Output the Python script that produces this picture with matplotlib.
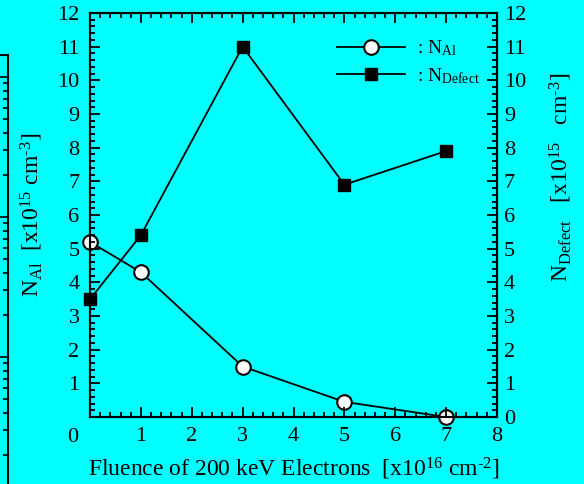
import numpy as np
import matplotlib
matplotlib.use("Agg")
import matplotlib.pyplot as plt
from matplotlib.ticker import MultipleLocator, LogLocator, NullFormatter

# data
fluence = [0, 1, 3, 5, 7]
n_al = [5.2, 4.3, 1.5, 0.45, 0.0]
n_defect = [3.5, 5.4, 11.0, 6.9, 7.9]

x_ticks = list(range(0, 9))
y_ticks = list(range(0, 13))

plt.rcParams['font.family'] = ['Liberation Serif', 'DejaVu Serif']
plt.rcParams['mathtext.fontset'] = 'custom'
plt.rcParams['mathtext.rm'] = 'Liberation Serif'
plt.rcParams['mathtext.it'] = 'Liberation Serif:italic'
plt.rcParams['mathtext.default'] = 'regular'

bg = '#00FFFF'
fig = plt.figure(figsize=(5.84, 4.84), dpi=100, facecolor=bg)

# clipped neighbour panel on the far left (only its right edge shows)
W, H = 584.0, 484.0
ghost = fig.add_axes([-0.4, 1 - 500 / H, 0.4 + 8 / W, (500 - 55) / H])
ghost.set_facecolor(bg)
ghost.set_yscale('log')
ghost.set_ylim(10 ** (-(500 - 357) / 140), 10 ** (1 + 162 / 140))
ghost.spines['left'].set_visible(False)
ghost.spines['bottom'].set_visible(False)
for s in ('right', 'top'):
    ghost.spines[s].set_linewidth(1.5)
ghost.set_xticks([])
ghost.yaxis.set_major_locator(LogLocator(base=10))
ghost.yaxis.set_minor_locator(LogLocator(base=10, subs=np.arange(2, 10)))
ghost.yaxis.set_minor_formatter(NullFormatter())
ghost.tick_params(axis='y', which='both', left=False, right=True, labelleft=False,
                  direction='in', width=1.2)
ghost.tick_params(axis='y', which='major', length=7)
ghost.tick_params(axis='y', which='minor', length=3.6)

# main panel
ax = fig.add_axes([90 / W, 1 - 417 / H, (497 - 90) / W, (417 - 13) / H])
ax.set_facecolor(bg)
ax.set_xlim(0, 8)
ax.set_ylim(0, 12)
ax2 = ax.twinx()
ax2.set_ylim(0, 12)

for a in (ax, ax2):
    for s in a.spines.values():
        s.set_linewidth(1.5)

tick_fs = 16
ax.set_xticks(x_ticks)
ax.set_xticklabels([''] + [str(v) for v in x_ticks[1:]])
ax.set_yticks(y_ticks)
ax.set_yticklabels([''] + [str(v) for v in y_ticks[1:]])
ax.xaxis.set_minor_locator(MultipleLocator(0.2))
ax.yaxis.set_minor_locator(MultipleLocator(0.2))
ax.tick_params(which='both', direction='in', top=True, right=False, width=1.3,
               labelsize=tick_fs, pad=7.5)
ax.tick_params(which='major', length=7.2)
ax.tick_params(which='minor', length=3.6)

ax2.set_yticks(y_ticks)
ax2.set_yticklabels([str(v) for v in y_ticks])
ax2.yaxis.set_minor_locator(MultipleLocator(0.2))
ax2.tick_params(which='both', direction='in', width=1.3, labelsize=tick_fs, pad=5)
ax2.tick_params(which='major', length=7.2)
ax2.tick_params(which='minor', length=3.6)

# corner zero
ax.annotate('0', xy=(0, 0), xycoords='data', xytext=(-12.5, -15),
            textcoords='offset points', ha='center', va='center', fontsize=tick_fs)

l1, = ax.plot(fluence, n_al, color='black', lw=1.3, marker='o', ms=10.5,
              mfc='white', mec='black', mew=1.5, clip_on=False, zorder=1)
l2, = ax2.plot(fluence, n_defect, color='black', lw=1.3, marker='s', ms=8,
               mfc='black', mec='black', clip_on=False, zorder=1)

ax.set_xlabel('Fluence of 200 keV Electrons  [x10$^{16}$ cm$^{\u2010 2}$]', fontsize=17)
ax.xaxis.set_label_coords(0.5, -0.097)
ax.set_ylabel('N$_{Al}$  [x10$^{15}$ cm$^{\u20103}$]', fontsize=17)
ax.yaxis.set_label_coords(-0.11, 0.5)
ax2.set_ylabel('N$_{Defect}$   [x10$^{15}$   cm$^{\u20103}$]', fontsize=17)
ax2.yaxis.set_label_coords(1.125, 0.594)

ax2.legend([l1, l2], [': N$_{Al}$', ': N$_{Defect}$'], loc='upper left',
           bbox_to_anchor=(0.607, 0.937), frameon=False, fontsize=14,
           handlelength=3.5, handletextpad=0.6, borderpad=0, borderaxespad=0,
           labelspacing=0.4)

fig.savefig('out.png', dpi=100, facecolor=bg)
